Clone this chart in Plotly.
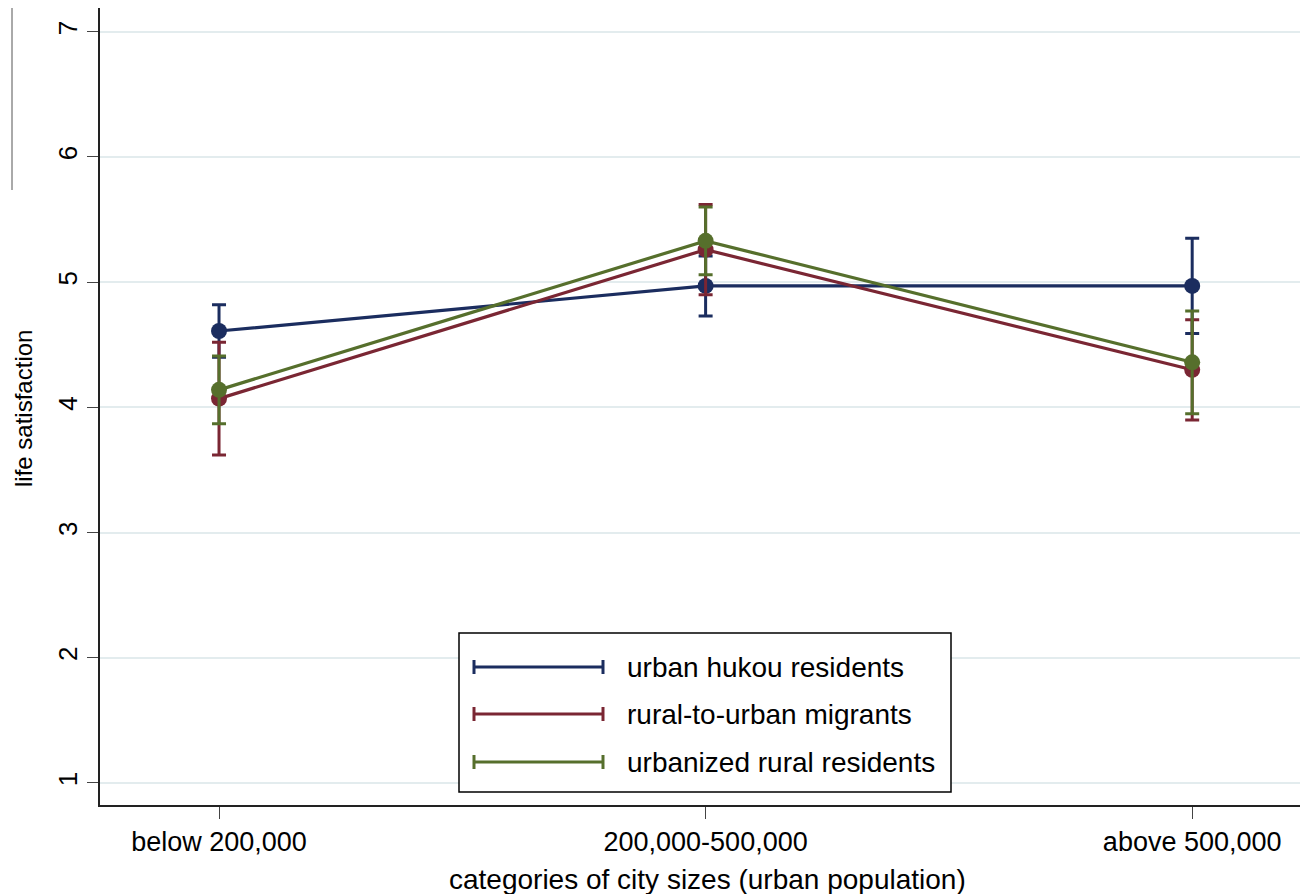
import plotly.graph_objects as go

categories = ["below 200,000", "200,000-500,000", "above 500,000"]
series_names = ["urban hukou residents", "rural-to-urban migrants", "urbanized rural residents"]
urban_mean = [4.61, 4.97, 4.97]
urban_err = [0.21, 0.24, 0.38]
migrant_mean = [4.07, 5.26, 4.30]
migrant_err = [0.45, 0.36, 0.40]
rural_mean = [4.14, 5.33, 4.36]
rural_err = [0.27, 0.27, 0.41]
y_ticks = [1, 2, 3, 4, 5, 6, 7]

colors = ["#1b2d5f", "#7a2633", "#566f2c"]
means = [urban_mean, migrant_mean, rural_mean]
errs = [urban_err, migrant_err, rural_err]

# the page body has an 8px margin; size the figure to fit the window
OFF = 8
W, H = 1308 - OFF, 894 - OFF
L, R, T, B = 100 - OFF, 0, 0, 89
PW, PH = W - L - R, H - T - B
FONT = "Liberation Sans, Arial, sans-serif"

def px(x):
    # page pixel -> paper coordinate
    return (x - OFF - L) / PW

def py(y):
    return (H - B - (y - OFF)) / PH

fig = go.Figure()
for name, m, e, c in zip(series_names, means, errs, colors):
    fig.add_trace(go.Scatter(
        x=categories, y=m, name=name, mode="lines+markers",
        line=dict(color=c, width=3.2),
        marker=dict(color=c, size=16),
        error_y=dict(type="data", array=e, visible=True, color=c, thickness=3, width=7),
        showlegend=False,
    ))

shapes = []
shapes.append(dict(type="rect", xref="paper", yref="paper",
                   x0=px(459), x1=px(951), y0=py(792), y1=py(633),
                   line=dict(color="black", width=1.5), fillcolor="white", layer="above"))
annotations = []
for i, (name, c) in enumerate(zip(series_names, colors)):
    yl = [667, 714, 762][i]
    shapes.append(dict(type="line", xref="paper", yref="paper",
                       x0=px(474), x1=px(603), y0=py(yl), y1=py(yl),
                       line=dict(color=c, width=3), layer="above"))
    for xx in (474, 603):
        shapes.append(dict(type="line", xref="paper", yref="paper",
                           x0=px(xx), x1=px(xx), y0=py(yl - 7), y1=py(yl + 7),
                           line=dict(color=c, width=3), layer="above"))
    annotations.append(dict(xref="paper", yref="paper", x=px(625), y=py(yl),
                            xanchor="left", yanchor="middle", text=name,
                            showarrow=False, font=dict(family=FONT, size=28, color="black")))

shapes.append(dict(type="line", xref="paper", yref="paper",
                   x0=px(12), x1=px(12), y0=py(190), y1=py(OFF),
                   line=dict(color="#555555", width=1)))

annotations.append(dict(xref="paper", yref="paper", x=px(23), y=py(408),
                        xanchor="center", yanchor="middle", textangle=-90,
                        text="life satisfaction", showarrow=False,
                        font=dict(family=FONT, size=24, color="black")))
annotations.append(dict(xref="paper", yref="paper", x=px(707), y=py(880),
                        xanchor="center", yanchor="middle",
                        text="categories of city sizes (urban population)", showarrow=False,
                        font=dict(family=FONT, size=28, color="black")))

fig.update_layout(
    width=W, height=H,
    margin=dict(l=L, r=R, t=T, b=B),
    paper_bgcolor="white", plot_bgcolor="white",
    font=dict(family=FONT, size=27, color="black"),
    shapes=shapes, annotations=annotations,
    xaxis=dict(type="category", range=[-0.2446, 2.238], showgrid=False,
               showline=True, linecolor="#222222", linewidth=2,
               ticks="outside", ticklen=12, tickcolor="#444444", tickwidth=1,
               tickfont=dict(family=FONT, size=27, color="black"), zeroline=False),
    yaxis=dict(range=[0.824, 7.19], tickvals=y_ticks, showgrid=True,
               gridcolor="#e3ecee", gridwidth=2,
               showline=True, linecolor="#222222", linewidth=2,
               ticks="outside", ticklen=11, tickcolor="#444444", tickwidth=1,
               tickangle=-90, tickfont=dict(family=FONT, size=26, color="black"),
               zeroline=False),
)

fig.write_html("out.html")
